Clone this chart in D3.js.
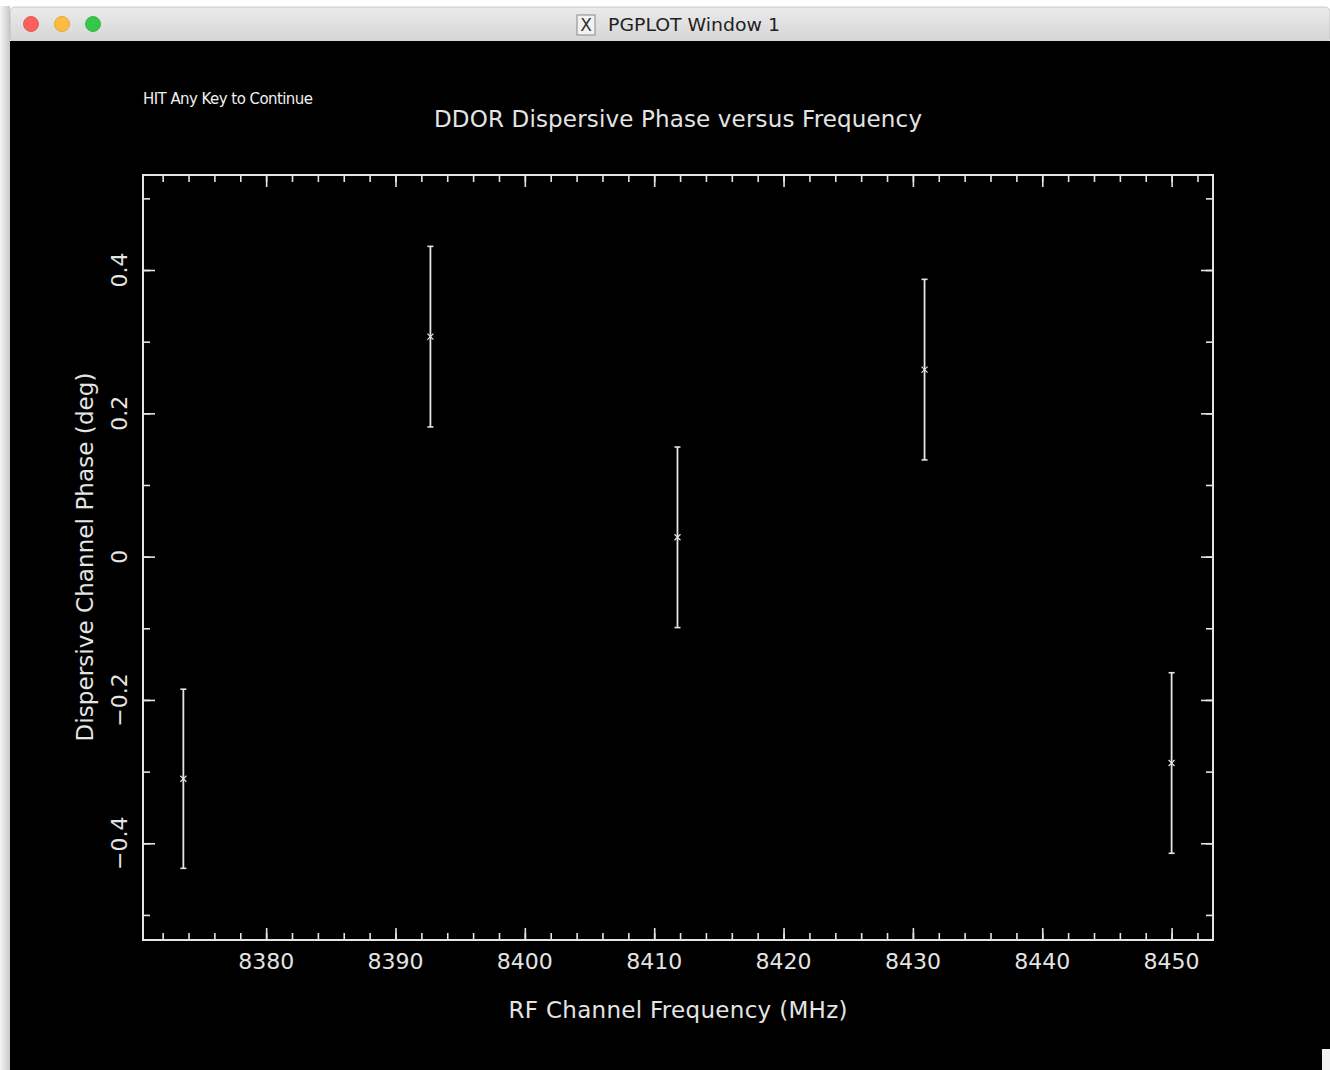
<!DOCTYPE html>
<html>
<head>
<meta charset="utf-8">
<script src="https://cdn.jsdelivr.net/npm/d3@7"></script>
<style>
  html, body { margin: 0; padding: 0; background: #fff; }
  svg { display: block; }
  text { font-family: "DejaVu Sans", sans-serif; }
</style>
</head>
<body>
<svg id="chart" width="1330" height="1070"></svg>
<script>
// measured channels
const freq = [8373.6, 8392.7, 8411.8, 8430.9, 8450.0]
const phase = [-0.310, 0.307, 0.027, 0.261, -0.288]
const phaseErr = [0.125, 0.126, 0.126, 0.126, 0.126]

const xTicks = [8380, 8390, 8400, 8410, 8420, 8430, 8440, 8450]
const yTicks = [-0.4, -0.2, 0, 0.2, 0.4]
const yTickLabels = ['\u22120.4', '\u22120.2', '0', '0.2', '0.4']

const W = 1330, H = 1070
const ink = '#e4e4e4'

let svg = d3.select('#chart')

// --- window chrome ---
let defs = svg.append('defs')
let grad = defs.append('linearGradient').attr('id', 'bar').attr('x1', 0).attr('y1', 0).attr('x2', 0).attr('y2', 1)
grad.append('stop').attr('offset', '0%').attr('stop-color', '#ebebeb')
grad.append('stop').attr('offset', '100%').attr('stop-color', '#d5d5d5')
let shade = defs.append('linearGradient').attr('id', 'shade').attr('x1', 0).attr('y1', 0).attr('x2', 1).attr('y2', 0)
shade.append('stop').attr('offset', '0%').attr('stop-color', '#f4f4f4')
shade.append('stop').attr('offset', '100%').attr('stop-color', '#c8c8c8')

svg.append('rect').attr('width', W).attr('height', H).attr('fill', '#fff')
svg.append('rect').attr('x', 0).attr('y', 6).attr('width', 10).attr('height', H - 6).attr('fill', 'url(#shade)')
svg.append('rect').attr('x', 10).attr('y', 7).attr('width', W - 10).attr('height', 35)
  .attr('rx', 5).attr('fill', 'url(#bar)').attr('stroke', '#bdbdbd').attr('stroke-width', 0.8)
svg.append('rect').attr('x', 10).attr('y', 41).attr('width', W - 10).attr('height', H - 41).attr('fill', '#000')

const lights = [['#fc605c', '#de4a45'], ['#fdbc40', '#dc9e2a'], ['#34c84a', '#27a83a']]
lights.forEach((c, i) => {
  svg.append('circle').attr('cx', 31 + i * 31).attr('cy', 24).attr('r', 7.5)
    .attr('fill', c[0]).attr('stroke', c[1]).attr('stroke-width', 0.8)
})
// little X11 icon
svg.append('rect').attr('x', 577).attr('y', 15).attr('width', 18).attr('height', 20)
  .attr('fill', '#f2f2f2').attr('stroke', '#888').attr('stroke-width', 1)
svg.append('text').attr('x', 586).attr('y', 31).attr('text-anchor', 'middle')
  .attr('font-family', 'Liberation Serif').attr('font-size', 17).attr('fill', '#333').text('X')
svg.append('text').attr('x', 608).attr('y', 31).attr('font-family', 'Noto Sans, sans-serif')
  .attr('font-size', 18).attr('fill', '#222').attr('textLength', 172).attr('lengthAdjust', 'spacingAndGlyphs')
  .text('PGPLOT Window 1')
svg.append('rect').attr('x', 1322).attr('y', 1049).attr('width', 8).attr('height', 21).attr('fill', '#f0f0f0')

// --- plot ---
const pLeft = 143, pRight = 1213, pTop = 175, pBottom = 940

let x = d3.scaleLinear().domain([8370.48, 8453.2]).range([pLeft, pRight])
let y = d3.scaleLinear().domain([-0.535, 0.5326]).range([pBottom, pTop])

let plot = svg.append('g')

function tickAxis(axis, size, values) {
  return axis.tickValues(values).tickSize(-size).tickFormat('')
}

const xMinor = x.ticks(40), yMinor = y.ticks(10)

let axes = [
  [d3.axisBottom(x), `translate(0,${pBottom})`, 12, xTicks],
  [d3.axisTop(x), `translate(0,${pTop})`, 12, xTicks],
  [d3.axisBottom(x), `translate(0,${pBottom})`, 7, xMinor],
  [d3.axisTop(x), `translate(0,${pTop})`, 7, xMinor],
  [d3.axisLeft(y), `translate(${pLeft},0)`, 12, yTicks],
  [d3.axisRight(y), `translate(${pRight},0)`, 12, yTicks],
  [d3.axisLeft(y), `translate(${pLeft},0)`, 7, yMinor],
  [d3.axisRight(y), `translate(${pRight},0)`, 7, yMinor]
]
axes.forEach(a => {
  let g = plot.append('g').attr('transform', a[1]).call(tickAxis(a[0], a[2], a[3]))
  g.select('.domain').remove()
  g.selectAll('line').attr('stroke', ink).attr('stroke-width', 1.6)
  g.selectAll('text').remove()
})

plot.append('rect').attr('x', pLeft).attr('y', pTop).attr('width', pRight - pLeft).attr('height', pBottom - pTop)
  .attr('fill', 'none').attr('stroke', ink).attr('stroke-width', 2)

// tick labels
plot.selectAll('.xlab').data(xTicks).enter().append('text')
  .attr('x', d => x(d)).attr('y', 969).attr('text-anchor', 'middle')
  .attr('font-size', 22).attr('fill', ink).text(d => d)

plot.selectAll('.ylab').data(yTicks).enter().append('text')
  .attr('transform', d => `translate(127,${y(d)}) rotate(-90)`).attr('text-anchor', 'middle')
  .attr('font-size', 22).attr('fill', ink).text((d, i) => yTickLabels[i])

// titles
svg.append('text').attr('x', 678).attr('y', 127).attr('text-anchor', 'middle')
  .attr('font-size', 23).attr('fill', ink).attr('textLength', 488).attr('lengthAdjust', 'spacing')
  .text('DDOR Dispersive Phase versus Frequency')
svg.append('text').attr('x', 678).attr('y', 1018).attr('text-anchor', 'middle')
  .attr('font-size', 23).attr('fill', ink).attr('textLength', 339).attr('lengthAdjust', 'spacing')
  .text('RF Channel Frequency (MHz)')
svg.append('text').attr('transform', 'translate(93,557) rotate(-90)').attr('text-anchor', 'middle')
  .attr('font-size', 23).attr('fill', ink).attr('textLength', 369).attr('lengthAdjust', 'spacing')
  .text('Dispersive Channel Phase (deg)')
svg.append('text').attr('x', 143).attr('y', 104)
  .attr('font-size', 15).attr('fill', '#f0f0f0').attr('textLength', 170).attr('lengthAdjust', 'spacing')
  .text('HIT Any Key to Continue')

// error bars
let pts = freq.map((f, i) => ({ f: f, p: phase[i], e: phaseErr[i] }))
let bars = plot.selectAll('.pt').data(pts).enter().append('g')
bars.append('line')
  .attr('x1', d => x(d.f)).attr('x2', d => x(d.f))
  .attr('y1', d => y(d.p + d.e)).attr('y2', d => y(d.p - d.e))
  .attr('stroke', ink).attr('stroke-width', 1.8)
bars.append('line')
  .attr('x1', d => x(d.f) - 3).attr('x2', d => x(d.f) + 3)
  .attr('y1', d => y(d.p + d.e)).attr('y2', d => y(d.p + d.e))
  .attr('stroke', ink).attr('stroke-width', 1.6)
bars.append('line')
  .attr('x1', d => x(d.f) - 3).attr('x2', d => x(d.f) + 3)
  .attr('y1', d => y(d.p - d.e)).attr('y2', d => y(d.p - d.e))
  .attr('stroke', ink).attr('stroke-width', 1.6)
bars.append('path')
  .attr('d', d => {
    let cx = x(d.f), cy = y(d.p)
    return `M${cx - 3},${cy - 3}L${cx + 3},${cy + 3}M${cx - 3},${cy + 3}L${cx + 3},${cy - 3}`
  })
  .attr('stroke', ink).attr('stroke-width', 1.2)
</script>
</body>
</html>
